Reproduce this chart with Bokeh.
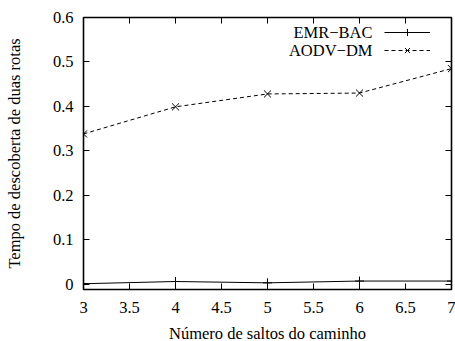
from bokeh.plotting import figure
from bokeh.models import (Range1d, LinearAxis, FixedTicker, CustomJSTickFormatter,
                          Legend, LegendItem, Label)
from bokeh.embed import file_html
from bokeh.resources import INLINE

hops = [3, 4, 5, 6, 7]
emr_bac = [0.001, 0.006, 0.003, 0.007, 0.007]
aodv_dm = [0.338, 0.399, 0.428, 0.430, 0.485]
x_ticks = [3, 3.5, 4, 4.5, 5, 5.5, 6, 6.5, 7]
y_ticks = [0, 0.1, 0.2, 0.3, 0.4, 0.5, 0.6]
series_names = ["EMR\u2212BAC", "AODV\u2212DM"]

FONT = "Liberation Serif"
FS = "16.5px"

p = figure(frame_width=368, frame_height=272, output_backend="svg", toolbar_location=None,
           x_range=Range1d(3, 7), y_range=Range1d(-0.012, 0.6),
           min_border_left=83, min_border_right=4, min_border_top=17, min_border_bottom=52,
           x_axis_location=None, y_axis_location=None)
p.background_fill_color = "white"
p.border_fill_color = "white"
p.outline_line_color = "black"
p.outline_line_width = 1.6
p.xgrid.visible = False
p.ygrid.visible = False


def style_axis(ax, ticks, labels=True):
    ax.ticker = FixedTicker(ticks=ticks)
    ax.axis_line_color = None
    ax.major_tick_in = 6
    ax.major_tick_out = 0
    ax.major_tick_line_color = "black"
    ax.major_tick_line_width = 1
    ax.minor_tick_line_color = None
    ax.major_label_text_font = FONT
    ax.major_label_text_font_size = FS
    ax.major_label_text_font_style = "normal"
    ax.major_label_text_color = "black"
    ax.axis_label_text_font = FONT
    ax.axis_label_text_font_size = FS
    ax.axis_label_text_font_style = "normal"
    ax.axis_label_text_color = "black"
    if not labels:
        ax.formatter = CustomJSTickFormatter(code="return ''")
        ax.major_label_standoff = 0


xb = LinearAxis(axis_label="N\u00famero de saltos do caminho")
style_axis(xb, x_ticks)
xb.major_label_standoff = 12
xb.axis_label_standoff = 8
p.add_layout(xb, "below")

yl = LinearAxis(axis_label="Tempo de descoberta de duas rotas")
style_axis(yl, y_ticks)
yl.major_label_standoff = 10
yl.axis_label_standoff = 26
p.add_layout(yl, "left")

xt = LinearAxis()
style_axis(xt, x_ticks, labels=False)
p.add_layout(xt, "above")

yr = LinearAxis()
style_axis(yr, y_ticks, labels=False)
p.add_layout(yr, "right")

l1 = p.line(hops, emr_bac, line_color="black", line_width=1)
s1 = p.scatter(hops, emr_bac, marker="cross", size=9, line_color="black", line_width=1)
l2 = p.line(hops, aodv_dm, line_color="black", line_width=1, line_dash="4 3")
s2 = p.scatter(hops, aodv_dm, marker="x", size=10, line_color="black", line_width=1)

legend = Legend(items=[LegendItem(label=" ", renderers=[l1, s1]),
                       LegendItem(label=" ", renderers=[l2, s2])],
                location=(301, 230), glyph_width=46, glyph_height=18, spacing=0,
                padding=0, margin=0, label_standoff=0, label_width=1, label_height=18,
                border_line_color=None, background_fill_alpha=0,
                label_text_font=FONT, label_text_font_size=FS)
p.add_layout(legend, "center")

for i, name in enumerate(series_names):
    p.add_layout(Label(x=289, y=257 - 18 * i, x_units="screen", y_units="screen",
                       text=name, text_align="right", text_baseline="middle",
                       text_font=FONT, text_font_size=FS, text_color="black"))

open("out.html", "w").write(file_html(p, INLINE))
